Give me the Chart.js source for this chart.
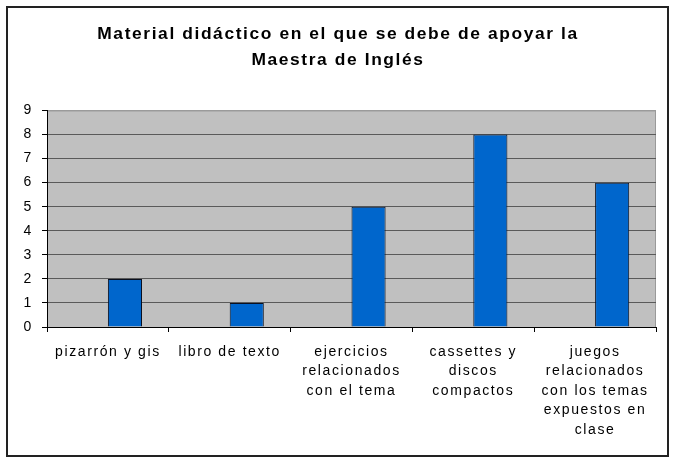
<!DOCTYPE html>
<html>
<head>
<meta charset="utf-8">
<script src="https://cdn.jsdelivr.net/npm/chart.js@4/dist/chart.umd.min.js"></script>
<style>
  html, body { margin: 0; padding: 0; background: #fff; }
  #wrap { width: 674px; height: 460px; }
</style>
</head>
<body>
<div id="wrap"><canvas id="barChart" width="674" height="460"></canvas></div>
<script>
// datos del grafico
const categorias = [
  ["pizarrón y gis"],
  ["libro de texto"],
  ["ejercicios", "relacionados", "con el tema"],
  ["cassettes y", "discos", "compactos"],
  ["juegos", "relacionados", "con los temas", "expuestos en", "clase"]
];
const valores = [2, 1, 5, 8, 6];
const vacios = [null, null, null, null, null];
const tituloLineas = ["Material didáctico en el que se debe de apoyar la", "Maestra de Inglés"];

// fondo gris del area y marco exterior
const marcoPlugin = {
  id: "marco",
  beforeDraw(chart) {
    const ctx = chart.ctx;
    const a = chart.chartArea;
    ctx.save();
    ctx.fillStyle = "#fff";
    ctx.fillRect(0, 0, chart.width, chart.height);
    ctx.strokeStyle = "#222";
    ctx.lineWidth = 2;
    ctx.strokeRect(7, 7, 661, 449);
    ctx.fillStyle = "#c0c0c0";
    ctx.fillRect(a.left, a.top, a.right - a.left, a.bottom - a.top);
    ctx.strokeStyle = "#9a9a9a";
    ctx.lineWidth = 1;
    ctx.strokeRect(a.left + 0.5, a.top + 0.5, a.right - a.left - 1, a.bottom - a.top);
    ctx.restore();
    ctx.letterSpacing = "1.6px";
  }
};

const ctx = document.getElementById("barChart").getContext("2d");
const barChart = new Chart(ctx, {
  type: "bar",
  data: {
    labels: categorias,
    datasets: [
      { data: vacios },
      {
        data: valores,
        backgroundColor: "#0066cc",
        borderColor: "#0a1020",
        borderWidth: 1
      }
    ]
  },
  options: {
    responsive: false,
    animation: false,
    events: [],
    categoryPercentage: 0.56,
    barPercentage: 1.0,
    layout: { padding: { left: 20, right: 18, top: 22, bottom: 10 } },
    plugins: {
      legend: { display: false },
      tooltip: { enabled: false },
      title: {
        display: true,
        text: tituloLineas,
        color: "#000",
        font: { family: "Liberation Sans, Arial, sans-serif", size: 17.4, weight: "bold", lineHeight: 1.45 },
        padding: { top: 0, bottom: 38 }
      }
    },
    scales: {
      x: {
        grid: { offset: true, drawOnChartArea: false, tickLength: 5, tickColor: "#000" },
        border: { color: "#000" },
        ticks: {
          color: "#000",
          maxRotation: 0,
          autoSkip: false,
          padding: 10,
          font: { family: "Liberation Sans, Arial, sans-serif", size: 14, lineHeight: 1.4 }
        }
      },
      y: {
        min: 0,
        max: 9,
        afterFit(scale) { scale.width = 27; },
        grid: {
          color: (c) => (c.tick && c.tick.value === 9 ? "#9a9a9a" : "#5a5a5a"),
          tickLength: 5,
          tickColor: "#000"
        },
        border: { color: "#000" },
        ticks: {
          stepSize: 1,
          color: "#000",
          padding: 9,
          font: { family: "Liberation Sans, Arial, sans-serif", size: 14 }
        }
      }
    }
  },
  plugins: [marcoPlugin]
});
</script>
</body>
</html>
